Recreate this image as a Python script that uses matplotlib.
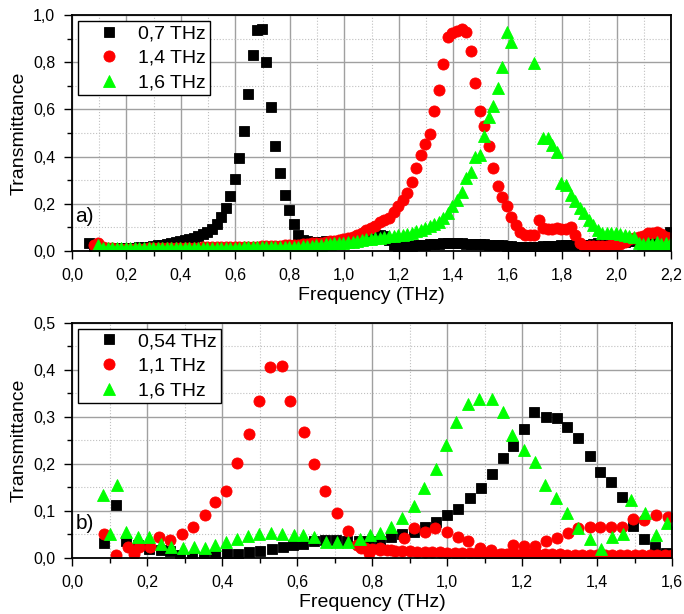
import numpy as np
import matplotlib
matplotlib.use('Agg')
import matplotlib.pyplot as plt
from matplotlib.ticker import MultipleLocator, FuncFormatter

plt.rcParams['font.family'] = ['Liberation Sans', 'DejaVu Sans']

nan = np.nan

# --- panel a): measured grid and transmittance of the three samples ---
freq_a = [
    0.064, 0.081, 0.097, 0.114, 0.131, 0.147, 0.164, 0.181, 0.197, 0.214,
    0.231, 0.247, 0.264, 0.281, 0.297, 0.314, 0.331, 0.347, 0.364, 0.381,
    0.397, 0.414, 0.431, 0.447, 0.464, 0.481, 0.497, 0.514, 0.531, 0.547,
    0.564, 0.581, 0.597, 0.614, 0.631, 0.647, 0.664, 0.681, 0.697, 0.714,
    0.731, 0.747, 0.764, 0.781, 0.797, 0.814, 0.831, 0.847, 0.864, 0.881,
    0.897, 0.914, 0.931, 0.947, 0.964, 0.981, 0.997, 1.014, 1.031, 1.047,
    1.064, 1.081, 1.097, 1.114, 1.131, 1.147, 1.164, 1.181, 1.197, 1.214,
    1.231, 1.247, 1.264, 1.281, 1.297, 1.314, 1.331, 1.347, 1.364, 1.381,
    1.397, 1.414, 1.431, 1.447, 1.464, 1.481, 1.497, 1.514, 1.531, 1.547,
    1.564, 1.581, 1.597, 1.614, 1.631, 1.647, 1.664, 1.681, 1.697, 1.714,
    1.731, 1.747, 1.764, 1.781, 1.797, 1.814, 1.831, 1.847, 1.864, 1.881,
    1.897, 1.914, 1.931, 1.947, 1.964, 1.981, 1.997, 2.014, 2.031, 2.047,
    2.064, 2.081, 2.097, 2.114, 2.131, 2.147, 2.164, 2.181, 2.197,
]
trans_a_07 = [
    0.033, 0.020, 0.015, 0.013, 0.012, 0.012, 0.012, 0.012, 0.012, 0.013,
    0.014, 0.015, 0.017, 0.019, 0.021, 0.024, 0.027, 0.030, 0.034, 0.038,
    0.042, 0.046, 0.051, 0.057, 0.062, 0.070, 0.080, 0.094, 0.113, 0.145,
    0.181, 0.233, 0.305, 0.393, 0.510, 0.664, 0.830, 0.936, 0.940, 0.800,
    0.611, 0.446, 0.329, 0.237, 0.174, 0.114, 0.068, 0.048, 0.042, 0.040,
    0.040, 0.040, 0.041, 0.042, 0.043, 0.044, 0.045, 0.047, 0.050, 0.052,
    0.055, 0.058, 0.062, 0.066, 0.068, 0.062, 0.045, 0.025, 0.018, 0.018,
    0.020, 0.022, 0.024, 0.026, 0.027, 0.028, 0.029, 0.030, 0.032, 0.033,
    0.033, 0.033, 0.032, 0.031, 0.030, 0.030, 0.029, 0.028, 0.027, 0.026,
    0.025, 0.024, 0.022, 0.020, 0.018, 0.016, 0.015, 0.015, 0.017, 0.019,
    0.020, 0.021, 0.022, 0.023, 0.024, 0.025, 0.025, 0.025, 0.025, 0.025,
    0.027, 0.030, 0.033, 0.036, 0.038, 0.040, 0.040, 0.040, 0.040, 0.041,
    0.042, 0.044, 0.046, 0.048, 0.050, 0.052, 0.056, 0.068, 0.080,
]
trans_a_14 = [
    nan, 0.025, 0.033, 0.018, 0.012, 0.011, 0.010, 0.010, 0.010, 0.010,
    0.010, 0.010, 0.010, 0.011, 0.011, 0.011, 0.012, 0.012, 0.012, 0.013,
    0.013, 0.013, 0.014, 0.014, 0.014, 0.015, 0.015, 0.015, 0.016, 0.016,
    0.016, 0.017, 0.017, 0.017, 0.018, 0.018, 0.019, 0.019, 0.020, 0.020,
    0.021, 0.022, 0.023, 0.024, 0.025, 0.026, 0.027, 0.028, 0.030, 0.032,
    0.034, 0.036, 0.038, 0.041, 0.044, 0.047, 0.050, 0.055, 0.061, 0.068,
    0.078, 0.089, 0.098, 0.108, 0.121, 0.133, 0.140, 0.167, 0.190, 0.216,
    0.244, 0.294, 0.350, 0.407, 0.452, 0.494, 0.594, 0.682, 0.792, 0.905,
    0.922, 0.932, 0.939, 0.928, 0.849, 0.710, 0.593, 0.531, 0.445, 0.350,
    0.275, 0.230, 0.192, 0.145, 0.110, 0.082, 0.068, 0.068, 0.068, 0.131,
    0.096, 0.094, 0.092, 0.096, 0.093, 0.095, 0.103, 0.068, 0.033, 0.022,
    0.020, 0.020, 0.020, 0.021, 0.022, 0.024, 0.026, 0.030, 0.040, 0.050,
    0.055, 0.058, 0.065, 0.075, 0.078, 0.082, 0.070, 0.060, 0.055,
]
trans_a_16 = [
    nan, nan, 0.025, 0.013, 0.013, 0.013, 0.013, 0.013, 0.013, 0.013,
    0.013, 0.013, 0.013, 0.013, 0.013, 0.013, 0.013, 0.013, 0.013, 0.013,
    0.014, 0.014, 0.014, 0.014, 0.014, 0.014, 0.014, 0.014, 0.014, 0.014,
    0.014, 0.014, 0.014, 0.014, 0.015, 0.015, 0.015, 0.015, 0.015, 0.015,
    0.015, 0.016, 0.016, 0.017, 0.017, 0.018, 0.019, 0.020, 0.021, 0.022,
    0.024, 0.026, 0.028, 0.030, 0.032, 0.034, 0.036, 0.038, 0.040, 0.043,
    0.046, 0.049, 0.052, 0.055, 0.057, 0.060, 0.062, 0.064, 0.066, 0.069,
    0.073, 0.078, 0.084, 0.090, 0.097, 0.105, 0.114, 0.125, 0.140, 0.160,
    0.190, 0.216, 0.251, 0.310, 0.336, 0.400, 0.407, 0.487, 0.569, 0.614,
    0.689, 0.781, 0.927, 0.887, nan, nan, nan, nan, 0.795, nan,
    0.477, 0.477, 0.449, 0.421, 0.287, 0.280, 0.237, 0.212, 0.181, 0.160,
    0.130, 0.110, 0.090, 0.075, 0.075, 0.075, 0.075, 0.072, 0.068, 0.065,
    0.060, 0.035, 0.030, 0.035, 0.030, 0.040, 0.030, 0.035, 0.030,
]

# --- panel b) ---
freq_b_054 = [
    0.084, 0.116, 0.144, 0.175, 0.206, 0.236, 0.262, 0.289, 0.320, 0.351,
    0.382, 0.413, 0.443, 0.471, 0.502, 0.533, 0.562, 0.590, 0.617, 0.644,
    0.675, 0.703, 0.733, 0.764, 0.791, 0.821, 0.850, 0.881, 0.912, 0.941,
    0.970, 1.000, 1.030, 1.060, 1.090, 1.120, 1.148, 1.176, 1.204, 1.232,
    1.264, 1.292, 1.321, 1.350, 1.380, 1.407, 1.436, 1.466, 1.496, 1.525,
    1.555, 1.584,
]
trans_b_054 = [
    0.031, 0.112, 0.036, 0.028, 0.020, 0.017, 0.015, 0.006, 0.003, 0.003,
    0.006, 0.008, 0.008, 0.012, 0.015, 0.019, 0.024, 0.028, 0.029, 0.036,
    0.038, 0.038, 0.037, 0.037, 0.036, 0.036, 0.044, 0.052, 0.056, 0.066,
    0.077, 0.091, 0.105, 0.127, 0.148, 0.178, 0.212, 0.238, 0.274, 0.310,
    0.299, 0.297, 0.279, 0.255, 0.216, 0.184, 0.161, 0.129, 0.068, 0.040,
    0.023, 0.010,
]
freq_b_11 = [
    0.084, 0.118, 0.150, 0.164, 0.178, 0.207, 0.232, 0.261, 0.292, 0.322,
    0.355, 0.381, 0.411, 0.441, 0.472, 0.499, 0.528, 0.559, 0.580, 0.619,
    0.646, 0.675, 0.706, 0.735, 0.771, 0.791, 0.821, 0.850, 0.884, 0.912,
    0.942, 0.968, 1.000, 1.029, 1.057, 1.089, 1.118, 1.147, 1.176, 1.204,
    1.234, 1.264, 1.292, 1.323, 1.350, 1.380, 1.409, 1.437, 1.467, 1.497,
    1.525, 1.556, 1.588,
]
trans_b_11 = [
    0.051, 0.007, 0.024, 0.009, 0.024, 0.024, 0.045, 0.038, 0.050, 0.067,
    0.092, 0.120, 0.143, 0.203, 0.264, 0.333, 0.406, 0.409, 0.333, 0.267,
    0.200, 0.143, 0.095, 0.058, 0.021, 0.010, 0.021, 0.016, 0.042, 0.064,
    0.056, 0.063, 0.056, 0.045, 0.037, 0.021, 0.016, 0.009, 0.027, 0.026,
    0.026, 0.036, 0.042, 0.054, 0.063, 0.065, 0.067, 0.067, 0.067, 0.084,
    0.081, 0.092, 0.087,
]
# dense tail of the 1,1 THz sample above 0,76 THz
freq_b_11_tail = [
    0.76, 0.78, 0.80, 0.82, 0.84, 0.86, 0.88, 0.90, 0.92, 0.94,
    0.96, 0.98, 1.00, 1.02, 1.04, 1.06, 1.08, 1.10, 1.12, 1.14,
    1.16, 1.18, 1.20, 1.22, 1.24, 1.26, 1.28, 1.30, 1.32, 1.34,
    1.36, 1.38, 1.40, 1.42, 1.44, 1.46, 1.48, 1.50, 1.52, 1.54,
    1.56, 1.58, 1.60,
]
trans_b_11_tail = [
    0.028, 0.022, 0.019, 0.017, 0.016, 0.015, 0.014, 0.014, 0.013, 0.013,
    0.012, 0.012, 0.011, 0.011, 0.011, 0.010, 0.010, 0.010, 0.009, 0.009,
    0.009, 0.009, 0.008, 0.008, 0.008, 0.008, 0.008, 0.008, 0.007, 0.007,
    0.007, 0.007, 0.007, 0.007, 0.007, 0.007, 0.007, 0.007, 0.007, 0.007,
    0.007, 0.007, 0.007,
]
freq_b_16 = [
    0.082, 0.100, 0.119, 0.143, 0.175, 0.205, 0.236, 0.265, 0.295, 0.326,
    0.355, 0.381, 0.411, 0.440, 0.468, 0.499, 0.531, 0.561, 0.591, 0.617,
    0.645, 0.676, 0.707, 0.735, 0.768, 0.795, 0.821, 0.850, 0.879, 0.911,
    0.938, 0.971, 0.997, 1.024, 1.055, 1.086, 1.119, 1.148, 1.174, 1.204,
    1.234, 1.261, 1.291, 1.320, 1.350, 1.380, 1.411, 1.440, 1.469, 1.491,
    1.528, 1.557, 1.586,
]
trans_b_16 = [
    0.133, 0.052, 0.155, 0.055, 0.045, 0.044, 0.030, 0.024, 0.021, 0.023,
    0.022, 0.027, 0.033, 0.041, 0.047, 0.051, 0.054, 0.052, 0.048, 0.048,
    0.044, 0.035, 0.033, 0.035, 0.041, 0.048, 0.053, 0.066, 0.085, 0.110,
    0.149, 0.189, 0.240, 0.290, 0.328, 0.338, 0.338, 0.310, 0.262, 0.230,
    0.205, 0.156, 0.128, 0.095, 0.064, 0.040, 0.019, 0.044, 0.052, 0.123,
    0.095, 0.049, 0.074,
]

labels_a = ['0,7 THz', '1,4 THz', '1,6 THz']
labels_b = ['0,54 THz', '1,1 THz', '1,6 THz']

BLACK, RED, GREEN = '#000000', '#ff0000', '#00ff00'


def comma_fmt(x, _):
    return f'{x:.1f}'.replace('.', ',')


def style_axes(ax, xmax, ymax, ystep):
    ax.set_xlim(0, xmax)
    ax.set_ylim(0, ymax)
    ax.xaxis.set_major_locator(MultipleLocator(0.2))
    ax.xaxis.set_minor_locator(MultipleLocator(0.1))
    ax.yaxis.set_major_locator(MultipleLocator(ystep))
    ax.yaxis.set_minor_locator(MultipleLocator(ystep / 2))
    ax.xaxis.set_major_formatter(FuncFormatter(comma_fmt))
    ax.yaxis.set_major_formatter(FuncFormatter(comma_fmt))
    ax.set_axisbelow(True)
    ax.grid(True, which='major', color='#a0a0a0', linewidth=1.0, linestyle='-')
    ax.grid(True, which='minor', color='#c0c0c0', linewidth=0.8, linestyle=':')
    ax.tick_params(which='major', direction='out', length=6, width=1.0, pad=6,
                   labelsize=11.5, top=False, right=False)
    ax.tick_params(which='minor', direction='out', length=3.5, width=1.0,
                   top=False, right=False)
    for spine in ax.spines.values():
        spine.set_linewidth(1.3)
        spine.set_color('black')
    ax.set_xlabel('Frequency (THz)', fontsize=14, labelpad=3)
    ax.set_ylabel('Transmittance', fontsize=14, labelpad=4)


def add_legend(ax):
    leg = ax.legend(loc='upper left', fontsize=14, frameon=True, fancybox=False,
                    framealpha=1, edgecolor='black', borderaxespad=0.3,
                    borderpad=0.2, labelspacing=0.36, handlelength=2.8,
                    handletextpad=0.1)
    leg.get_frame().set_linewidth(1.0)


fig = plt.figure(figsize=(6.84, 6.14), dpi=100)
ax1 = fig.add_axes([0.1053, 0.5912, 0.8757, 0.3844])
ax2 = fig.add_axes([0.1053, 0.0912, 0.8772, 0.3828])

mk = dict(linestyle='none', markeredgewidth=0.6)

ax1.plot(freq_a, trans_a_07, marker='s', ms=7.2, color=BLACK, label=labels_a[0], **mk)
ax1.plot(freq_a, trans_a_14, marker='o', ms=8.0, color=RED, label=labels_a[1], **mk)
ax1.plot(freq_a, trans_a_16, marker='^', ms=8.8, color=GREEN, label=labels_a[2], **mk)
style_axes(ax1, 2.2, 1.0, 0.2)
add_legend(ax1)
ax1.text(0.006, 0.145, 'a)', transform=ax1.transAxes, fontsize=15, va='center')

ax2.plot(freq_b_054, trans_b_054, marker='s', ms=7.2, color=BLACK, label=labels_b[0], **mk)
ax2.plot(freq_b_11, trans_b_11, marker='o', ms=8.0, color=RED, label=labels_b[1], **mk)
ax2.plot(freq_b_11_tail, trans_b_11_tail, marker='o', ms=8.0, color=RED, **mk)
ax2.plot(freq_b_16, trans_b_16, marker='^', ms=8.8, color=GREEN, label=labels_b[2], **mk)
style_axes(ax2, 1.6, 0.5, 0.1)
add_legend(ax2)
ax2.text(0.006, 0.145, 'b)', transform=ax2.transAxes, fontsize=15, va='center')

fig.savefig('out.png', dpi=100)
plt.close(fig)
